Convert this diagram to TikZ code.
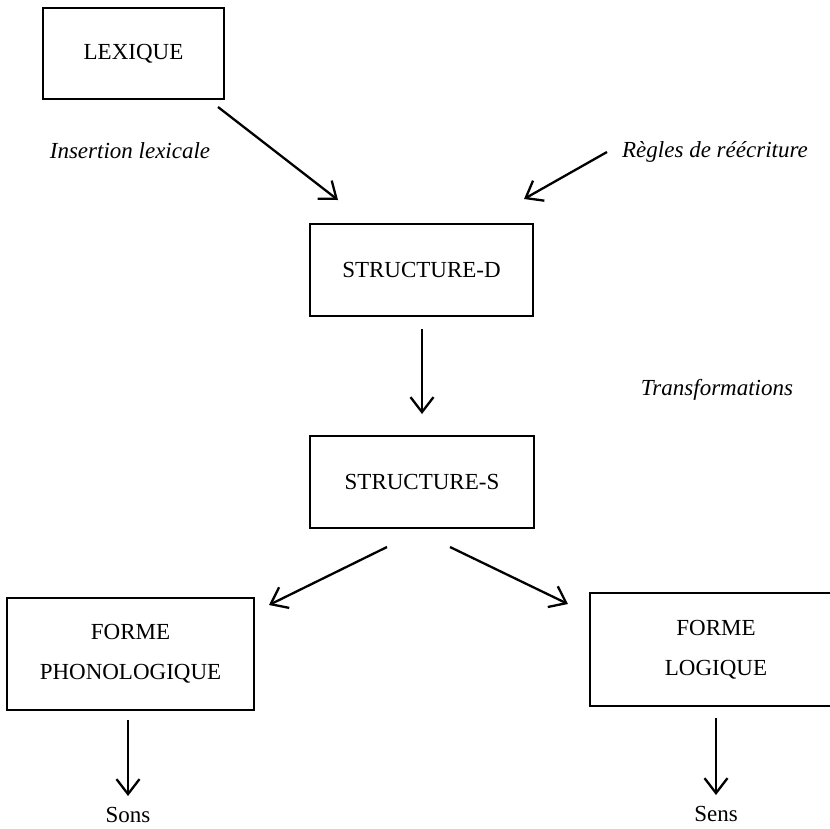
\documentclass[tikz,border=0pt]{standalone}
\usepackage{fontspec}
\setmainfont{Liberation Serif}
\usetikzlibrary{arrows.meta}
\begin{document}
\begin{tikzpicture}[x=1pt,y=-1pt,
  box/.style={draw,line width=2.8pt,inner sep=0pt,align=center,font=\fontsize{23}{27.6}\selectfont},
  lbl/.style={inner sep=0pt,font=\fontsize{23}{27.6}\selectfont\itshape},
  plain/.style={inner sep=0pt,font=\fontsize{23}{27.6}\selectfont},
  arr/.style={line width=2.3pt,-{Straight Barb[length=15pt,width=23pt,line width=2.3pt]}}]
\useasboundingbox (0,0) rectangle (830,828);
\clip (0,0) rectangle (830,828);
\fill[white] (0,0) rectangle (830,828);
\node[box,minimum width=181pt,minimum height=91pt] (lex) at (133.5,53.5) {LEXIQUE};
\node[box,minimum width=223pt,minimum height=92pt] (sd) at (421.5,270) {STRUCTURE-D};
\node[box,minimum width=224pt,minimum height=92pt] (ss) at (422,482) {STRUCTURE-S};
\node[box,minimum width=247pt,minimum height=112pt] (fp) at (130.5,654) {FORME\\[12pt]PHONOLOGIQUE};
\node[box,minimum width=252pt,minimum height=113pt] (fl) at (716,649.5) {FORME\\[12pt]LOGIQUE};
\node[lbl] (ins) at (130,151) {Insertion lexicale};
\node[lbl] (reg) at (715,152) {Règles de réécriture};
\node[lbl] (tr) at (717,390) {Transformations};
\node[plain] (sons) at (128,815) {Sons};
\node[plain] (sens) at (716,814) {Sens};
\coordinate (a1s) at (218,107);
\coordinate (a1e) at (338,200);
\coordinate (a2s) at (607,152);
\coordinate (a2e) at (524,199);
\coordinate (a3s) at (422,329);
\coordinate (a3e) at (422,414);
\coordinate (a4s) at (387,547);
\coordinate (a4e) at (269,605);
\coordinate (a5s) at (450,547);
\coordinate (a5e) at (568,604);
\coordinate (a6s) at (128,720);
\coordinate (a6e) at (128,796);
\coordinate (a7s) at (716,718);
\coordinate (a7e) at (716,795);
\draw[arr] (a1s) -- (a1e);
\draw[arr] (a2s) -- (a2e);
\draw[arr] (a3s) -- (a3e);
\draw[arr] (a4s) -- (a4e);
\draw[arr] (a5s) -- (a5e);
\draw[arr] (a6s) -- (a6e);
\draw[arr] (a7s) -- (a7e);
\end{tikzpicture}
\end{document}
